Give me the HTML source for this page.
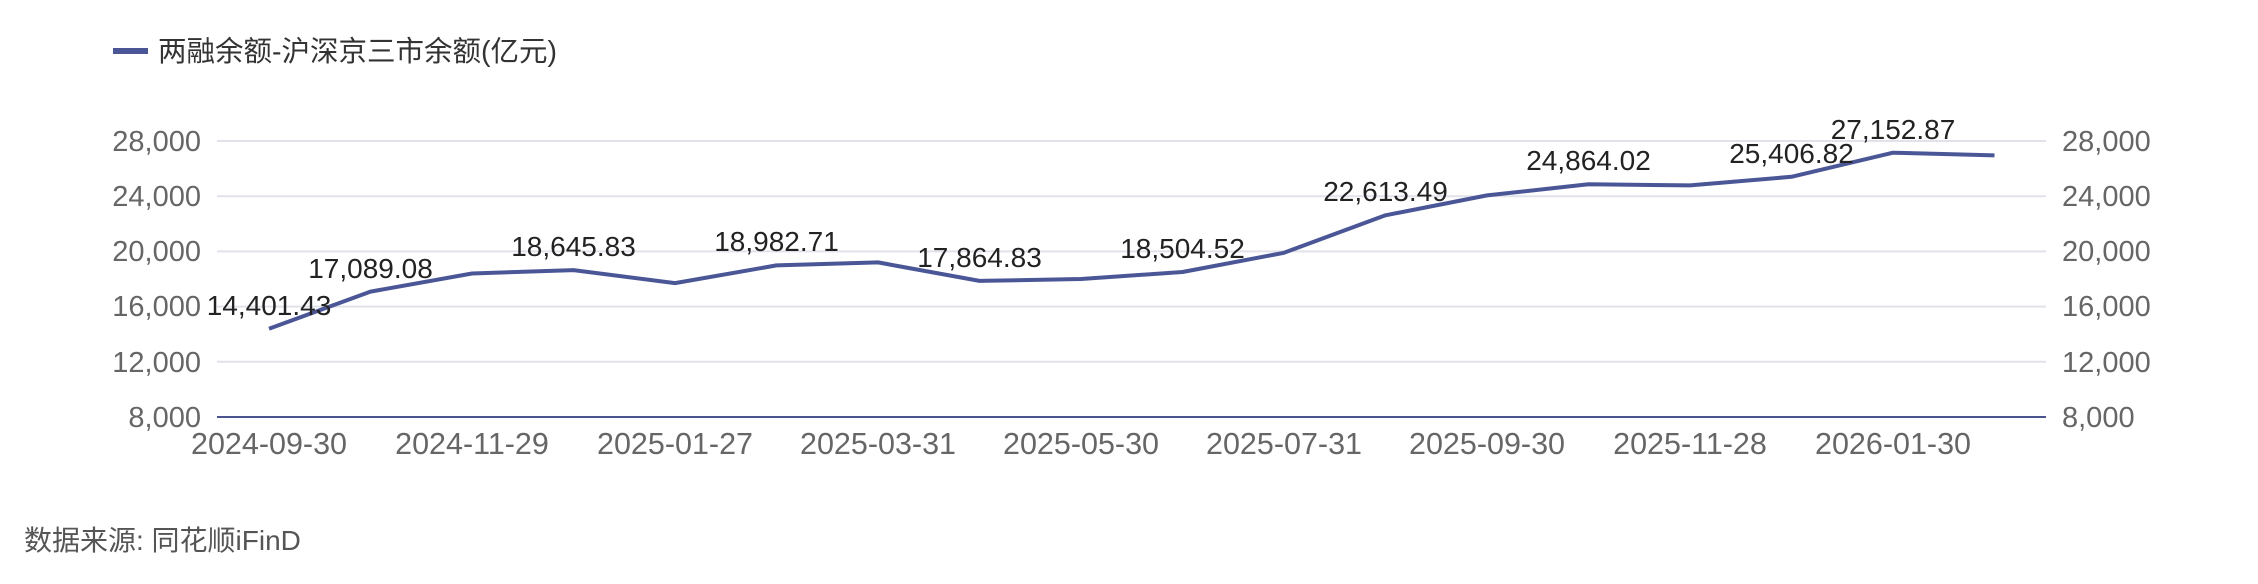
<!DOCTYPE html>
<html><head><meta charset="utf-8"><style>
html,body{margin:0;padding:0;background:#fff;}
svg{display:block;font-family:"Liberation Sans","Noto Sans CJK SC",sans-serif;}
</style></head><body>
<svg width="2258" height="584" viewBox="0 0 2258 584" xmlns="http://www.w3.org/2000/svg">
<line x1="113" y1="51" x2="148" y2="51" stroke="#4b5697" stroke-width="6"/>
<text x="158" y="61" font-size="28.5" fill="#333">两融余额-沪深京三市余额(亿元)</text>
<g stroke="#e2e3ea" stroke-width="2">
<line x1="217" y1="141" x2="2046" y2="141"/>
<line x1="217" y1="196.2" x2="2046" y2="196.2"/>
<line x1="217" y1="251.4" x2="2046" y2="251.4"/>
<line x1="217" y1="306.6" x2="2046" y2="306.6"/>
<line x1="217" y1="361.8" x2="2046" y2="361.8"/>
</g>
<line x1="217" y1="417" x2="2046" y2="417" stroke="#4a5590" stroke-width="2"/>
<g font-size="29" fill="#666" text-anchor="end">
<text x="201" y="151">28,000</text>
<text x="201" y="206">24,000</text>
<text x="201" y="261">20,000</text>
<text x="201" y="316">16,000</text>
<text x="201" y="372">12,000</text>
<text x="201" y="427">8,000</text>
</g>
<g font-size="29" fill="#666">
<text x="2062" y="151">28,000</text>
<text x="2062" y="206">24,000</text>
<text x="2062" y="261">20,000</text>
<text x="2062" y="316">16,000</text>
<text x="2062" y="372">12,000</text>
<text x="2062" y="427">8,000</text>
</g>
<g font-size="30.5" fill="#666" text-anchor="middle">
<text x="269" y="454">2024-09-30</text>
<text x="472" y="454">2024-11-29</text>
<text x="675" y="454">2025-01-27</text>
<text x="878" y="454">2025-03-31</text>
<text x="1081" y="454">2025-05-30</text>
<text x="1284" y="454">2025-07-31</text>
<text x="1487" y="454">2025-09-30</text>
<text x="1690" y="454">2025-11-28</text>
<text x="1893" y="454">2026-01-30</text>
</g>
<polyline fill="none" stroke="#4b5697" stroke-width="4" stroke-linejoin="round" points="269,328.7 370.5,291.6 472,273.5 573.5,270.1 675,283.1 776.5,265.4 878,262.4 979.5,280.9 1081,279 1182.5,272 1284,252.8 1385.5,215.3 1487,195.4 1588.5,184.3 1690,185.4 1791.5,176.8 1893,152.7 1994.5,155.4"/>
<g font-size="28" fill="#222" text-anchor="middle">
<text x="269" y="315">14,401.43</text>
<text x="370.5" y="278">17,089.08</text>
<text x="573.5" y="256">18,645.83</text>
<text x="776.5" y="251">18,982.71</text>
<text x="979.5" y="267">17,864.83</text>
<text x="1182.5" y="258">18,504.52</text>
<text x="1385.5" y="201">22,613.49</text>
<text x="1588.5" y="170">24,864.02</text>
<text x="1791.5" y="163">25,406.82</text>
<text x="1893" y="139">27,152.87</text>
</g>
<text x="24" y="550" font-size="28" fill="#555">数据来源: 同花顺iFinD</text>
</svg>
</body></html>
